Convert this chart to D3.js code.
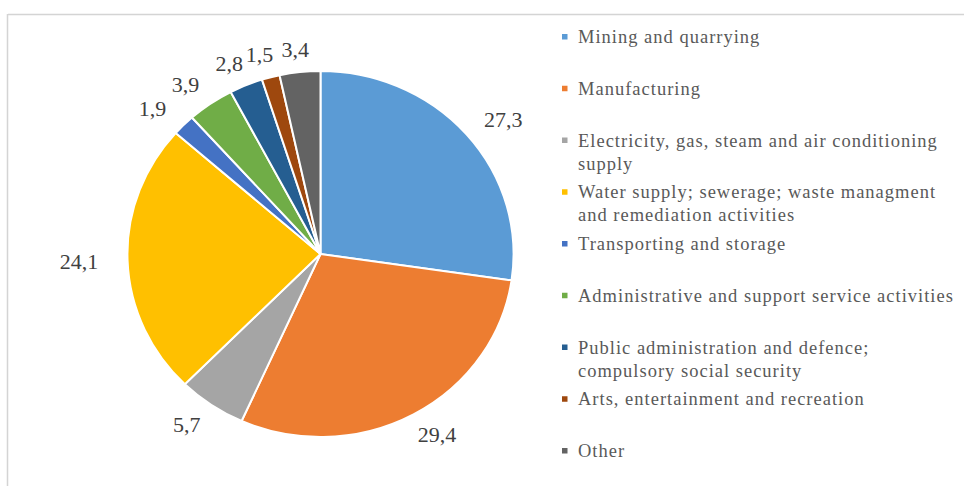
<!DOCTYPE html>
<html><head><meta charset="utf-8">
<script src="https://cdn.jsdelivr.net/npm/d3@7"></script>
<style>html,body{margin:0;padding:0;background:#fff;}</style>
</head><body>
<svg id="c" width="964" height="486"></svg>
<script>
const categories = [
  "Mining and quarrying",
  "Manufacturing",
  "Electricity, gas, steam and air conditioning supply",
  "Water supply; sewerage; waste managment and remediation activities",
  "Transporting and storage",
  "Administrative and support service activities",
  "Public administration and defence; compulsory social security",
  "Arts, entertainment and recreation",
  "Other"
];
const legendLines = [
  ["Mining and quarrying"],
  ["Manufacturing"],
  ["Electricity, gas, steam and air conditioning", "supply"],
  ["Water supply; sewerage; waste managment", "and remediation activities"],
  ["Transporting and storage"],
  ["Administrative and support service activities"],
  ["Public administration and defence;", "compulsory social security"],
  ["Arts, entertainment and recreation"],
  ["Other"]
];
const values = [27.3, 29.4, 5.7, 24.1, 1.9, 3.9, 2.8, 1.5, 3.4];
const labels = ["27,3", "29,4", "5,7", "24,1", "1,9", "3,9", "2,8", "1,5", "3,4"];
const colors = ["#5B9BD5", "#ED7D31", "#A5A5A5", "#FFC000", "#4472C4", "#70AD47", "#255E91", "#9E480E", "#636363"];

const SERIF = "Liberation Serif, Times New Roman, serif";
const svg = d3.select("#c");
// frame
svg.append("line").attr("x1", 8).attr("x2", 964).attr("y1", 14.5).attr("y2", 14.5)
  .attr("stroke", "#d4d4d4").attr("stroke-width", 1.5);
svg.append("line").attr("x1", 7.5).attr("x2", 7.5).attr("y1", 14).attr("y2", 486)
  .attr("stroke", "#d4d4d4").attr("stroke-width", 1.5);

const cx = 320.5, cy = 254, r = 183, sx = 1.055;
const pie = d3.pie().sort(null).value(d => d);
const arcs = pie(values);
const arc = d3.arc().innerRadius(0).outerRadius(r);
const color = d3.scaleOrdinal().domain(d3.range(values.length)).range(colors);

const g = svg.append("g").attr("transform", `translate(${cx},${cy}) scale(${sx},1)`);
g.selectAll("path").data(arcs).join("path")
  .attr("d", arc)
  .attr("fill", (d, i) => color(i))
  .attr("stroke", "#fff").attr("stroke-width", 2)
  .attr("vector-effect", "non-scaling-stroke");

// data labels (outside end)
const lg = svg.append("g").attr("transform", `translate(${cx},${cy})`);
const R = 198, lsx = 1.12;
lg.selectAll("text").data(arcs).join("text")
  .attr("font-family", SERIF)
  .attr("font-size", 22)
  .attr("fill", "#404040")
  .attr("text-anchor", "middle")
  .attr("dominant-baseline", "central")
  .attr("x", (d, i) => {
    const a = (d.startAngle + d.endAngle) / 2;
    const w = labels[i].length * 10;
    return R * Math.sin(a) * lsx + w / 2 * Math.sin(a);
  })
  .attr("y", (d, i) => {
    const a = (d.startAngle + d.endAngle) / 2;
    return -(R + 8) * Math.cos(a);
  })
  .text((d, i) => labels[i]);

// legend
const leg = svg.append("g");
const y = d3.scalePoint().domain(d3.range(categories.length)).range([43, 457]);
legendLines.forEach((lines, i) => {
  const by = y(i);
  leg.append("rect").attr("x", 562).attr("y", by - 9).attr("width", 5.5).attr("height", 5.5)
    .attr("fill", color(i));
  const t = leg.append("text")
    .attr("font-family", SERIF)
    .attr("font-size", 18.5).attr("fill", "#595959")
    .attr("letter-spacing", 1.0);
  lines.forEach((ln, j) => {
    t.append("tspan").attr("x", 578).attr("y", by + j * 23).text(ln);
  });
});
</script>
</body></html>
